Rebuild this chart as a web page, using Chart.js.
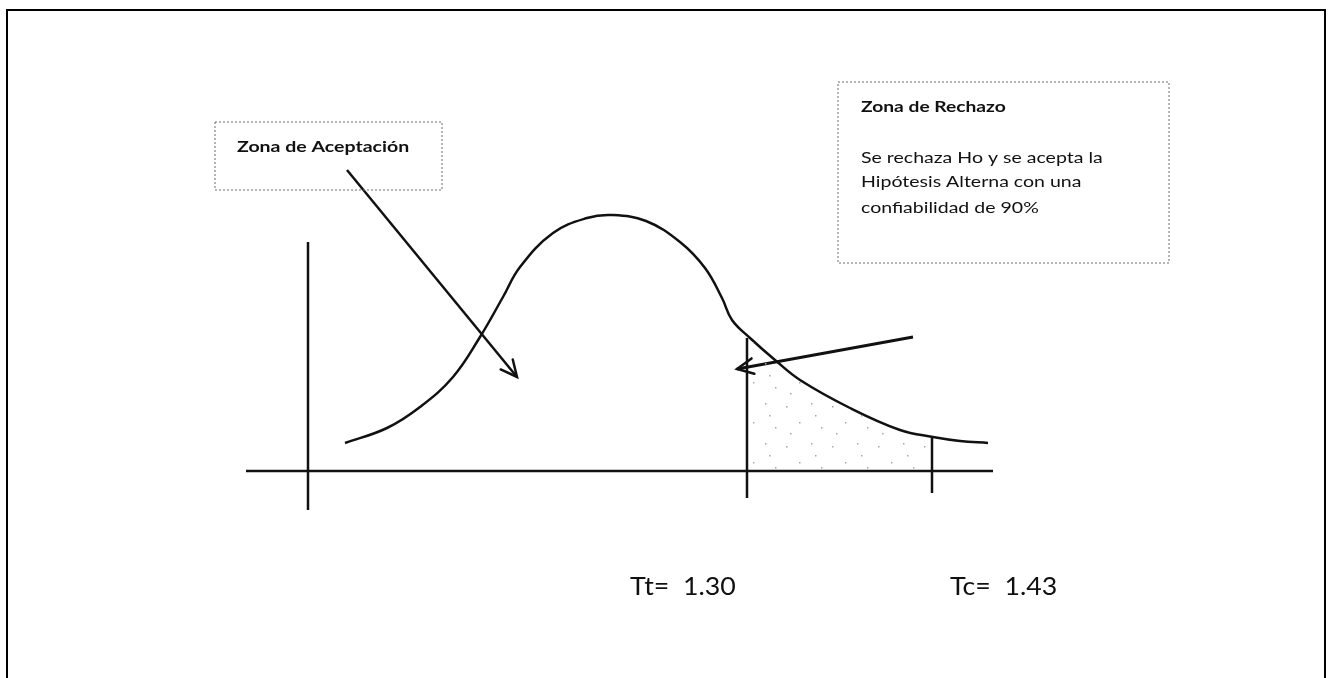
<!DOCTYPE html>
<html>
<head>
<meta charset="utf-8">
<script src="https://cdn.jsdelivr.net/npm/chart.js@4.4.1/dist/chart.umd.min.js"></script>
<style>
  html, body { margin: 0; padding: 0; background: #fff; overflow: hidden; }
  #frame { position: absolute; left: 6px; top: 9px; width: 1316px; height: 720px; border: 2px solid #000; }
  #wrap { position: absolute; left: 0; top: 0; width: 1332px; height: 678px; }
</style>
</head>
<body>
<div id="frame"></div>
<div id="wrap"><canvas id="grafTStudent"></canvas></div>
<script>
// curva (esquema): t en unidades del esquema, f altura
const curvaT = [3.7, 7.9, 11.2, 14.5, 17.2, 19.5, 21.2, 24.5, 27.9, 30.4, 33.8, 37.2, 39.7, 41.4, 42.4, 44.2, 46.7, 49.2, 54.2, 59.2, 62.5, 65.2, 68.0];
const curvaF = [2.8, 4.3, 6.4, 9.4, 13.4, 17.4, 20.4, 23.8, 25.3, 25.6, 25.0, 22.9, 20.3, 17.3, 15.1, 13.3, 11.1, 9.1, 6.3, 4.1, 3.4, 3.0, 2.8];

// zona sombreada entre Tt y Tc
const colaT = [43.9, 46.7, 49.2, 54.2, 59.2, 62.4];
const colaF = [13.4, 11.1, 9.1, 6.3, 4.1, 3.4];

// valores criticos
const criticos = [43.9, 62.4];
const criticosTop = [13.3, 3.4];
const criticosBottom = [-2.7, -2.2];
const etiquetas = ['Tt=  1.30', 'Tc=  1.43'];

// ejes del esquema
const ejeX = [-6.2, 68.5];
const ejeY = [22.9, -3.9];

// flechas [desde, hasta]
const flecha1 = [{x: 3.9, y: 30.1}, {x: 20.9, y: 9.4}];
const flecha2 = [{x: 60.5, y: 13.4}, {x: 42.9, y: 10.2}];

const txtAceptacion = 'Zona de Aceptación';
const txtRechazo = ['Zona de Rechazo', 'Se rechaza Ho y se acepta la', 'Hipótesis Alterna con una', 'confiabilidad de 90%'];

const pts = (xs, ys) => xs.map((x, i) => ({x: x, y: ys[i]}));

// patron punteado (escaso) para la cola
const pat = document.createElement('canvas');
pat.width = 46; pat.height = 40;
const pctx = pat.getContext('2d');
pctx.fillStyle = '#a8a8a8';
[[4, 6], [29, 3], [17, 22], [39, 27], [8, 33], [33, 15]].forEach(p => pctx.fillRect(p[0], p[1], 1.5, 1.5));
const punteado = pctx.createPattern(pat, 'repeat');

const linea = (data, w) => ({
    data: data, showLine: true, borderColor: '#111', borderWidth: w,
    pointRadius: 0, fill: false, tension: 0
});

// texto estirado en horizontal como en el escaneo
function texto(ctx, s, x, y, esc) {
    ctx.save();
    ctx.translate(x, y);
    ctx.scale(esc, 1);
    ctx.fillText(s, 0, 0);
    ctx.restore();
}

const anotaciones = {
    id: 'anotaciones',
    afterDatasetsDraw(chart) {
        const ctx = chart.ctx;
        const sx = chart.scales.x, sy = chart.scales.y;
        const X = v => sx.getPixelForValue(v), Y = v => sy.getPixelForValue(v);
        ctx.save();

        // cajas punteadas
        ctx.strokeStyle = '#6d6d6d';
        ctx.lineWidth = 1;
        ctx.setLineDash([2, 2]);
        ctx.strokeRect(X(-9.3), Y(34.9), X(13.4) - X(-9.3), Y(28.1) - Y(34.9));
        ctx.strokeRect(X(53.0), Y(38.9), X(86.1) - X(53.0), Y(20.8) - Y(38.9));
        ctx.setLineDash([]);

        // textos
        ctx.fillStyle = '#111';
        ctx.textBaseline = 'alphabetic';
        ctx.font = 'bold 16px Lato';
        texto(ctx, txtAceptacion, X(-7.1), Y(31.9), 1.22);
        texto(ctx, txtRechazo[0], X(55.3), Y(35.9), 1.2);
        ctx.font = '16px Lato';
        const base = [30.8, 28.4, 25.8];
        for (let i = 1; i < txtRechazo.length; i++) {
            texto(ctx, txtRechazo[i], X(55.3), Y(base[i - 1]), 1.22);
        }
        ctx.font = '25px Lato';
        texto(ctx, etiquetas[0], X(32.2), Y(-12.4), 1.07);
        texto(ctx, etiquetas[1], X(64.2), Y(-12.4), 1.07);

        // puntas de flecha
        ctx.strokeStyle = '#111';
        ctx.lineWidth = 2.5;
        ctx.lineCap = 'round';
        [flecha1, flecha2].forEach(f => {
            const x0 = X(f[0].x), y0 = Y(f[0].y), x1 = X(f[1].x), y1 = Y(f[1].y);
            const a = Math.atan2(y1 - y0, x1 - x0);
            ctx.beginPath();
            ctx.moveTo(x1 - 18 * Math.cos(a - 0.45), y1 - 18 * Math.sin(a - 0.45));
            ctx.lineTo(x1, y1);
            ctx.lineTo(x1 - 18 * Math.cos(a + 0.45), y1 - 18 * Math.sin(a + 0.45));
            ctx.stroke();
        });
        ctx.restore();
    }
};

const grafTStudent = new Chart('grafTStudent', {
    type: 'scatter',
    data: {
        datasets: [
            {
                data: pts(colaT, colaF), showLine: true, borderWidth: 0, pointRadius: 0,
                fill: 'origin', backgroundColor: punteado, tension: 0.4
            },
            Object.assign(linea(pts(curvaT, curvaF), 2.5), {tension: 0.4}),
            linea([{x: ejeX[0], y: 0}, {x: ejeX[1], y: 0}], 2.5),
            linea([{x: 0, y: ejeY[0]}, {x: 0, y: ejeY[1]}], 2.5),
            linea([{x: criticos[0], y: criticosTop[0]}, {x: criticos[0], y: criticosBottom[0]}], 2.5),
            linea([{x: criticos[1], y: criticosTop[1]}, {x: criticos[1], y: criticosBottom[1]}], 2.5),
            linea(flecha1, 2.5),
            linea(flecha2, 3)
        ]
    },
    options: {
        responsive: true,
        maintainAspectRatio: false,
        animation: false,
        layout: { padding: 0 },
        plugins: {
            legend: { display: false },
            tooltip: { enabled: false },
            title: { display: false }
        },
        scales: {
            x: { type: 'linear', min: -30.8, max: 102.4, display: false },
            y: { type: 'linear', min: -20.7, max: 47.1, display: false }
        }
    },
    plugins: [anotaciones]
});
</script>
</body>
</html>
